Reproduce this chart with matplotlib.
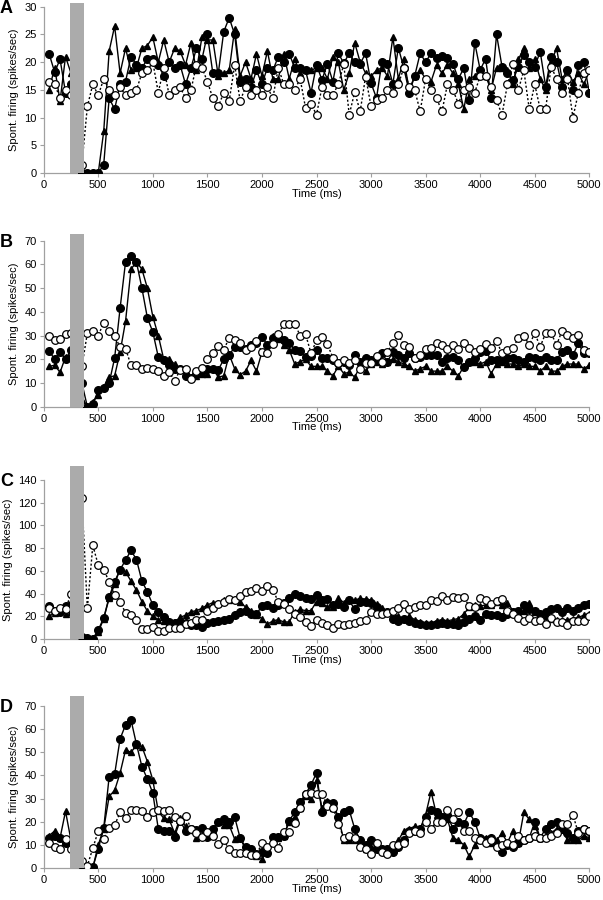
import numpy as np
import matplotlib
matplotlib.use("Agg")
import matplotlib.pyplot as plt
from matplotlib.patches import Rectangle

plt.rcParams['font.family'] = ['Liberation Sans', 'DejaVu Sans']

time_ms = np.arange(50, 5001, 50)

# ---------- Panel A ----------
A_filled = [21.5,18.2,20.5,14.5,16,5,0,0,0,0,
            1.5,13.5,11.5,16,16.5,21,19.5,19,20.5,20.5,
            19.5,17.5,20,19,19.5,16,19,22.5,20.5,25,
            18,18,25.5,28,25,16.5,17,15.5,18.5,16,
            19,18.5,21,20,21.5,19,19,18.5,14.5,19.5,
            16.8,19.7,16.5,21.6,19.8,21.6,20,19.7,21.6,16.2,
            13.5,20.1,19.7,16.1,22.6,19,14.5,17.5,21.6,20,
            21.6,20.7,21.1,20.7,19.7,17,18.9,13.1,23.5,18.6,
            20.6,13.5,25,19.2,18.1,16.7,19.2,21.3,20.1,19.2,
            21.9,15.6,21,20.1,15.6,18.5,15,19.5,20.1,14.5]
A_tri = [15,19,13,21,18,6,0,0,0,0,
         7.5,22,26.5,18,22.5,18.5,19,22.5,23,24.5,
         20,24,20,22.5,22,19.5,23.5,18.5,24.5,24,
         24,17.5,18,18.5,26,17.5,20,17,21.5,17.5,
         22,17,17,21.5,17,20.5,18,18.5,18.5,19,
         19,17,21,20,15,18,23.5,20,18,17.5,
         18.5,19,17.5,24.5,17,20.5,15,17.5,18.5,17,
         16.5,19.5,18,19.5,18,16,11.5,17,17.5,18.5,
         17.5,15,19,19,18.5,16,20.5,22.5,19,20.5,
         17,15,20,22.5,17,18.5,16.5,18,16,18.5]
A_open = [16.5,16,13.5,15,14,8,1.5,12,16,14,
          17,15,14,15.5,14,14.5,15,18,18.5,20,
          14.5,19,14,15,15.5,13.5,15,19.5,19,16.5,
          13.5,12,14.5,13,19.5,13,15.5,14,15,14,
          15.5,13.5,19,16,16,15,17,11.7,12.5,10.5,
          15.5,14.1,14.1,16,19.6,10.5,14.6,11.1,17.4,12,
          13.2,13.5,15,14.5,16,19,15.5,15,11.1,17,
          15,13.5,11.1,16,15,12.5,15,15.5,14.5,17.5,
          17.5,15.5,13.1,10.5,16,19.6,15,18.5,11.5,16,
          11.5,11.5,19.2,17,14.5,17,10,14.5,18.1,18.6]

# ---------- Panel B ----------
B_filled = [23.5,20,23,20,24,15,10,0,1,7,
            8,10,20.5,41.5,61,63.5,61,50,37.5,31.5,
            21,19.5,17.5,16,16,13,12,14,15,16,
            16,15.5,20,22,25,25,24.5,26,27,29.5,
            26,29,29.5,28,27,24,23.5,21,21.5,24,
            20.7,20.7,19.7,18.3,19,17.6,21.8,19,20.4,19.7,
            20.7,22.5,19,23.2,21.8,20.4,22.5,20.4,21,21.8,
            21.8,21.8,19,20.4,21,19.7,16.9,19,20.4,23.2,
            23.5,19.7,19.7,19.7,20.4,20.4,19.7,19,21,20.4,
            19.7,21,19.7,19.7,23.2,23.9,21.8,26.7,22.8,22.8]
B_tri = [17,17.5,14.5,21,22,10,3,0,2,5,
         8.5,12.5,13,23,36,58,61,58,50,38,
         30,20,20,18,16,15,12,13,14,14,
         16,12.5,13,22,16,13.5,15,19.5,15,23,
         24,30,28.5,26,24,18,19,20,17,17,
         17,15,13,17,14,14.5,12.5,17,15,18,
         19,18,19,20,19,18,17,15,16,17,
         15,15,15,17,15,13,17,19,19,18,
         19,14,18,19,18,18,17,18,17,17,
         15,17,15,15,17,18,18,18,16,17.5]
B_open = [30,28,28.5,30.5,31,25,17,31,32,30,
          35.5,32,30,25,24.5,17.5,17.5,16,16.5,16,
          15,13,14.5,11,15.5,16,11.5,15,16.5,20,
          22.5,25.5,24,29,28,27,24,25,27.5,23,
          22.5,26.5,30.5,35,35,35,30,30.5,22.5,28,
          29.5,26.3,20.7,18.3,19.7,18.3,19.7,15.9,18.5,18.5,
          21.5,18.7,23.2,26.7,30.2,26,25.3,20.7,22,24.3,
          24.8,27,26,24.3,26,24.3,27,24.8,23.2,24.3,
          26.3,24.6,27.7,22.5,23.9,24.8,29,30,26,31,
          25.3,31,31,26,32,30.2,28.8,30.2,24,23]

# ---------- Panel C ----------
C_filled = [29,25,24,29,30,15,2,1,0,8,
            18.5,37,50.5,61,69.5,78,70,51,41.5,30,
            24,19.5,15,14,15,14,12,12,11,14,
            15,16,17,18,21,24,25,22,22,29,
            30,27,30,32,36,40,38,36,35,39,
            34,35,30,31,28,34,26,33,33,32,
            28,24,24,18,16,18,16,14,13,12,
            12,13,14,13,13,12,15,18,20,17,
            22,21,21,19,22,24,25,30,26,25,
            22,24,26,27,24,27,25,27,30,31]
C_tri = [20,23,25,22,24,10,0,0,1,6,
         18,36,48,62,59,51,43,33,24.5,20,
         17,16,15,15,19,21,24,25,27,30,
         32,32,34,34,35,33,28,25,21,18,
         13,16,17,15,15,24,26,25,25,33,
         32,28,28,36,32,35,34,36,35,34,
         31,27,25,22,20,18,20,17,15,14,
         14,16,17,16,17,18,22,28,30,29,
         30,30,33,30,32,25,22,25,32,24,
         22,20,18,17,17,17,18,19,21,22]
C_open = [27,25,27,26,40,90,124,27,82.5,65,
          61,50.5,38.5,33,23,21,16.5,9,9,10.5,
          7,7,10,10,10,13,14,17,17,25,
          27,31,33,35,34,38,41,42,45,42,
          47,43,33,31,26,22,19.7,15,11.7,17,
          13.8,12,10,13.5,12.5,13.5,14.5,16,17,24,
          22,22,22.5,25,27,31,26,28.5,30,30,
          34,33.5,38,34,36.7,36,36.7,29,28,36,
          34,31,33.5,35,24.6,21.7,18.8,16,18.8,16,
          16.5,13,18.8,15,15,12.5,16,16,16,20.5]

# ---------- Panel D ----------
D_filled = [13,14,13,11,12,6,1.5,0,0.3,8.3,
            17.2,39.5,40.5,55.8,61.8,64,53.5,43.8,38.5,32.3,
            17,15.8,15.8,13.6,20.5,16,17,16.5,17.5,13.5,
            17,20,21,20,22,13,9,8,6,7,
            6.5,13.5,13.5,14,20.5,24,28.5,32,36,41,
            24,28,28,22,24,25,17,12,10,12,
            8,8,8,7,9,12,16,16,17,22,
            25,24,22,23,17,20,19,24,20,13,
            12,13,10,7,10,9,11,12,13,20,
            13,17,19,20,17,15,13,16,17,16]
D_tri = [14,16,13,24.5,12,5,0,0,0,10,
         17,31,33.5,41,51,50,53,52.5,46,38,
         24.5,21.5,21,15,21.5,18,16.5,13,14,15,
         16.5,20,18.5,18.5,12.5,13,8,6,5,4,
         7,12,13,14,20,22,26,31,30,38,
         26,29,26,22,12,12,12,10,8,9,
         9,8,8,10,12,16,17,18,17,23,
         33,23,21,21,13,12,10,5,10,12,
         13,11,12,15,11,16,11,24,21,18,
         13,14,15,17,17,12,12,12,14,13]
D_open = [11,9,8,12.5,8,5,3,1,8.5,16,
          12.5,17.5,18.5,24,21.5,25,25,24.5,22,24,
          25,24.5,25,22,20.5,22.5,17,15,13.5,15.5,
          14,10.5,12,8,6.5,6.5,6.5,5.5,5.5,11,
          9,11,8.5,15.5,15.5,19.5,26,32,32.5,32,
          32,27,26,19,13,14,13,9,8,6,
          11,7,6,10,10,11,15,16,15,20,
          17,20,20,25,21,24,16,16,13,12,
          11,12,9,10,11,10,14,12,13,14,
          13,13,14,15,19,19,23,15,17,16]

panel_letters = ["A", "B", "C", "D"]
y_max = [30, 70, 140, 70]
y_step = [5, 10, 20, 10]
bar_start, bar_end = 242, 368
bar_over = [1.025, 1.04, 1.085, 1.06]
x_ticks = list(range(0, 5001, 500))

panels = [(A_filled, A_tri, A_open), (B_filled, B_tri, B_open),
          (C_filled, C_tri, C_open), (D_filled, D_tri, D_open)]

fig = plt.figure(figsize=(6.03, 9.0), dpi=100)
left = 43.7 / 603
width = 545.6 / 603
tops_px = [6.7, 240.7, 480.0, 706.0]
bots_px = [173.0, 406.7, 639.0, 868.0]

spine_col = '#a0a0a0'
fs = 8
for i, (f, t, o) in enumerate(panels):
    bottom = 1 - bots_px[i] / 900
    height = (bots_px[i] - tops_px[i]) / 900
    ax = fig.add_axes([left, bottom, width, height])
    ax.plot(time_ms, f, color='black', lw=1.0, marker='o', ms=5.5,
            mfc='black', mec='black', zorder=3)
    ax.plot(time_ms, t, color='black', lw=1.0, marker='^', ms=4.2,
            mfc='black', mec='black', zorder=3)
    ax.plot(time_ms, o, color='black', lw=1.0, ls=(0, (1.5, 1.5)), marker='o',
            ms=5.5, mfc='white', mec='black', mew=0.9, zorder=4)
    ax.add_patch(Rectangle((bar_start, 0), bar_end - bar_start,
                           y_max[i] * bar_over[i], facecolor='#ababab',
                           edgecolor='none', zorder=5, clip_on=False))
    ax.set_xlim(0, 5000)
    ax.set_ylim(0, y_max[i])
    ax.set_xticks(x_ticks)
    ax.set_yticks(np.arange(0, y_max[i] + 1, y_step[i]))
    for s in ['top', 'right']:
        ax.spines[s].set_visible(False)
    for s in ['left', 'bottom']:
        ax.spines[s].set_color(spine_col)
        ax.spines[s].set_linewidth(0.9)
    ax.tick_params(axis='both', direction='out', length=3, width=0.8,
                   color=spine_col, labelsize=fs, pad=2)
    ax.set_xlabel('Time (ms)', fontsize=fs, labelpad=-1)
    ax.set_ylabel('Spont. firing (spikes/sec)', fontsize=fs, labelpad=4)
    fig.text(0.0, 1 - (tops_px[i] - 7) / 900, panel_letters[i],
             fontsize=13, fontweight='bold', va='top', ha='left')

fig.savefig('out.png', dpi=100)
